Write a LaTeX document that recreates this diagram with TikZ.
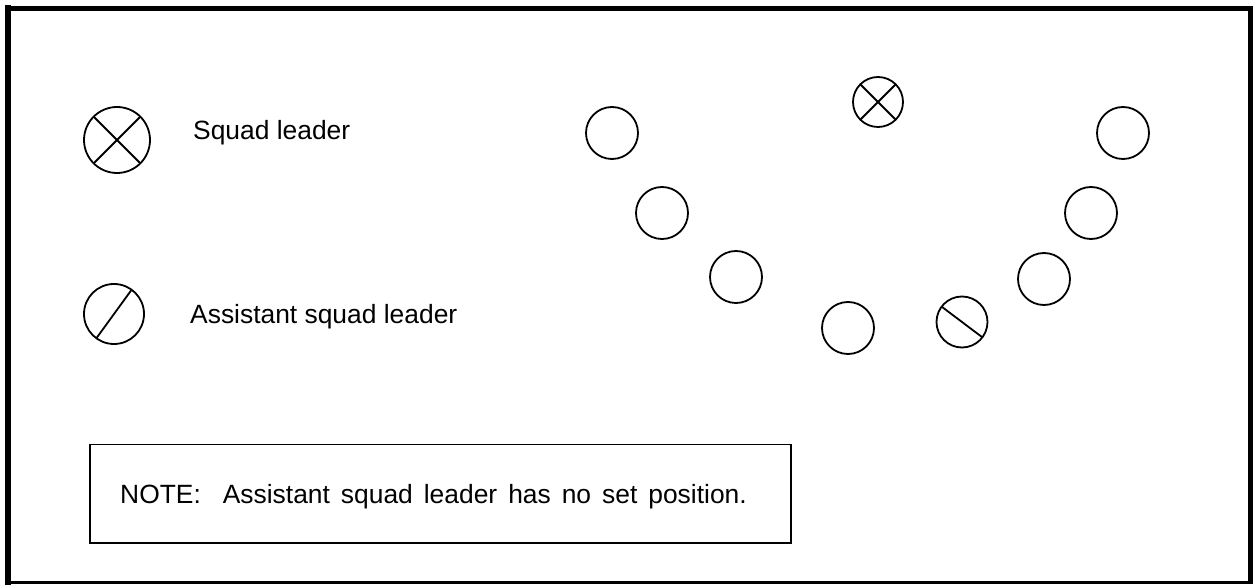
\documentclass[tikz,border=0pt]{standalone}
\usepackage{fontspec}
\setmainfont{Liberation Sans}
\newfontfamily\notefont[WordSpace=1.5]{Liberation Sans}
\begin{document}
\begin{tikzpicture}[x=1pt,y=-1pt,
  man/.style={circle,draw,line width=1.8pt,inner sep=0pt,outer sep=0pt,minimum size=#1},
  man/.default=52pt,
  mark line/.style={line width=1.8pt},
  lbl/.style={anchor=base west,inner sep=0pt,font=\fontsize{26.4}{30}\selectfont}]
\useasboundingbox (0,0) rectangle (1254,585);
% frame
\draw[line width=6pt] (8,5) -- (8,585);
\draw[line width=5pt] (5,9) -- (1253,9);
\draw[line width=5pt] (1250,7) -- (1250,584);
\draw[line width=3pt] (6,582.5) -- (1253,582.5);
% legend
\node[man=66pt] (lx) at (117,140) {};
\draw[mark line] (lx.45) -- (lx.225) (lx.135) -- (lx.315);
\node[lbl] (tlx) at (193,140) {Squad leader};
\node[man=60pt] (ls) at (114,314) {};
\draw[mark line] (ls.54) -- (ls.234);
\node[lbl] (tls) at (190,324) {Assistant squad leader};
% formation
\node[man] (c1) at (612,133) {};
\node[man] (c2) at (662,213) {};
\node[man] (c3) at (736,277) {};
\node[man] (c4) at (848,328) {};
\node[man=50pt] (sl) at (878,102) {};
\draw[mark line] (sl.45) -- (sl.225) (sl.135) -- (sl.315);
\node[man=51pt] (asl) at (962,322) {};
\draw[mark line] (asl.143) -- (asl.323);
\node[man] (c7) at (1044,279) {};
\node[man] (c8) at (1091,213) {};
\node[man] (c9) at (1123,133) {};
% note
\node[draw,line width=1.5pt,minimum width=701pt,minimum height=98pt,inner sep=0pt,anchor=north west] (note) at (89,444) {};
\node[anchor=base west,inner sep=0pt,font=\notefont\fontsize{26.4}{30}\selectfont] (nt) at (120,503) {NOTE:~ Assistant squad leader has no set position.};
\end{tikzpicture}
\end{document}
